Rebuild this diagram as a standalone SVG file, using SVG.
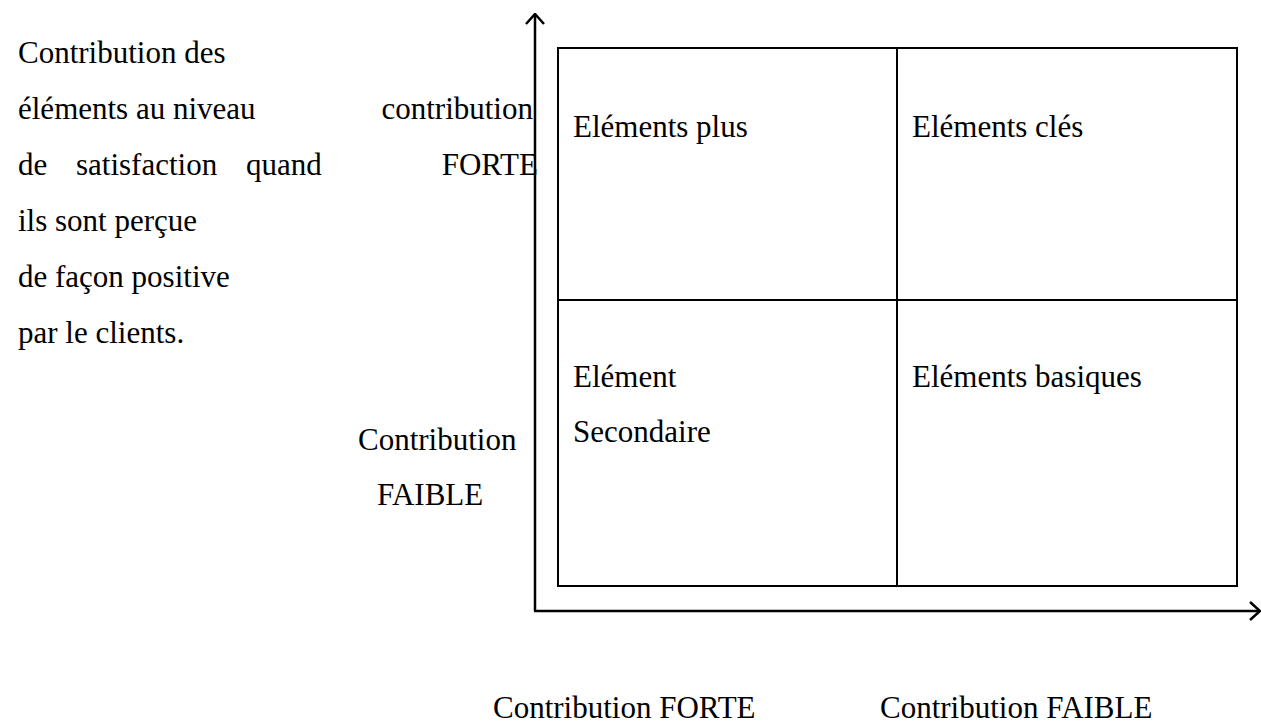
<svg xmlns="http://www.w3.org/2000/svg" width="1261" height="727" viewBox="0 0 1261 727">
  <style>
    text { font-family: "Liberation Serif", "Times New Roman", serif; font-size: 31px; fill: #000; }
    .axis { stroke: #000; stroke-width: 2.5; fill: none; }
    .grid { stroke: #000; stroke-width: 2; fill: none; }
  </style>
  <defs>
    <marker id="chevron" viewBox="0 0 12 20" refX="11" refY="10" markerWidth="12" markerHeight="20" markerUnits="userSpaceOnUse" orient="auto">
      <polyline points="1,1 11,10 1,19" fill="none" stroke="#000" stroke-width="2.5"/>
    </marker>
  </defs>

  <rect width="1261" height="727" fill="#fff"/>

  <!-- axes -->
  <g id="connectors">
    <line class="axis" x1="535" y1="611" x2="535" y2="14" marker-end="url(#chevron)"/>
    <line class="axis" x1="534" y1="611" x2="1260" y2="611" marker-end="url(#chevron)"/>
  </g>

  <!-- quadrant frame -->
  <g id="matrix">
    <rect class="grid" x="558" y="48" width="679" height="538"/>
    <line class="grid" x1="897" y1="48" x2="897" y2="586"/>
    <line class="grid" x1="558" y1="300" x2="1237" y2="300"/>
  </g>

  <g id="q-plus"><text x="573" y="137">Eléments plus</text></g>
  <g id="q-cles"><text x="912" y="137">Eléments clés</text></g>
  <g id="q-secondaire">
    <text x="573" y="387">Elément</text>
    <text x="573" y="442">Secondaire</text>
  </g>
  <g id="q-basiques"><text x="912" y="387">Eléments basiques</text></g>

  <!-- vertical axis description -->
  <g id="legend-left">
    <text x="18" y="63">Contribution des</text>
    <text x="18" y="119">éléments au niveau</text>
    <text y="175"><tspan x="18">de</tspan><tspan x="76">satisfaction</tspan><tspan x="246">quand</tspan></text>
    <text x="18" y="231">ils sont perçue</text>
    <text x="18" y="287">de façon positive</text>
    <text x="18" y="343">par le clients.</text>
  </g>

  <g id="label-forte-v">
    <text x="533" y="119" text-anchor="end">contribution</text>
    <text x="538" y="175" text-anchor="end">FORTE</text>
  </g>
  <g id="label-faible-v">
    <text x="358" y="450">Contribution</text>
    <text x="377" y="505">FAIBLE</text>
  </g>

  <g id="label-forte-h"><text x="493" y="718">Contribution FORTE</text></g>
  <g id="label-faible-h"><text x="880" y="718">Contribution FAIBLE</text></g>
</svg>
